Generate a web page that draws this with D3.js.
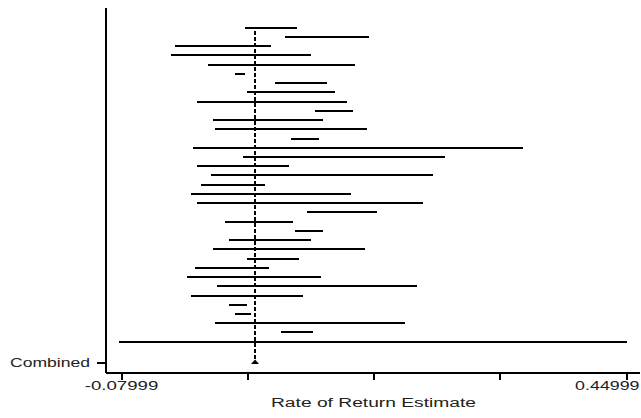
<!DOCTYPE html>
<html>
<head>
<meta charset="utf-8">
<script src="https://cdn.jsdelivr.net/npm/d3@7"></script>
<style>
  body { margin: 0; background: #fff; }
  text { font-family: "Liberation Sans", Arial, sans-serif; fill: #222; }
</style>
</head>
<body>
<script>
/*
*    forest plot - rate of return
*/

var width = 641;
var height = 418;

// study estimates, lower / upper limits (top to bottom)
var lower = [0.0505, 0.0925, -0.0230, -0.0272, 0.0110, 0.0400, 0.0819, 0.0525, 0.0001, 0.1239,
             0.0169, 0.0190, 0.0987, -0.0041, 0.0483, 0.0001, 0.0148, 0.0043, -0.0062, 0.0001,
             0.1155, 0.0295, 0.1029, 0.0337, 0.0169, 0.0525, -0.0020, -0.0104, 0.0211, -0.0062,
             0.0337, 0.0400, 0.0190, 0.0882, -0.0818];
var upper = [0.1044, 0.1803, 0.0774, 0.1194, 0.1653, 0.0501, 0.1359, 0.1443, 0.1569, 0.1632,
             0.1317, 0.1779, 0.1275, 0.3416, 0.2597, 0.0960, 0.2471, 0.0708, 0.1611, 0.2366,
             0.1883, 0.1002, 0.1317, 0.1191, 0.1758, 0.1065, 0.0750, 0.1296, 0.2303, 0.1107,
             0.0519, 0.0561, 0.2177, 0.1212, 0.4507];

// combined estimate
var combinedEst = 0.0607;
var combinedLow = 0.0565;
var combinedHigh = 0.0648;
var combinedRow = 36.25;

var xTicks = [-0.07999, 0.052505, 0.185, 0.317495, 0.44999];
var xTickLabels = ["-0.07999", "", "", "", "0.44999"];
var yTickLabel = "Combined";
var xTitle = "Rate of Return Estimate";

var rows = lower.map((d, i) => ({row: i, lo: d, hi: upper[i]}));

//Scales
var x = d3.scaleLinear()
    .domain([-0.07999, 0.44999])
    .range([121, 626]);

var xAxisScale = x.copy()
    .domain([x.invert(105), x.invert(639)])
    .range([105, 639]);

var y = d3.scaleLinear()
    .domain([-2.24, 37.28])
    .range([7, 372]);

//Canvas
var svg = d3.select("body")
    .append("svg")
        .attr("width", width)
        .attr("height", height);

svg.append("rect")
    .attr("width", width)
    .attr("height", height)
    .attr("fill", "#fff");

//Axes
var bottomAxis = d3.axisBottom(xAxisScale)
    .tickValues(xTicks)
    .tickFormat((d, i) => xTickLabels[i])
    .tickSize(8)
    .tickSizeOuter(0);

var gx = svg.append("g")
    .attr("class", "x axis")
    .attr("transform", "translate(0, " + y.range()[1] + ")")
    .call(bottomAxis);
gx.select(".domain").attr("stroke", "#000").attr("stroke-width", 2).attr("shape-rendering", "crispEdges");
gx.selectAll(".tick line").attr("stroke", "#000").attr("stroke-width", 2).attr("shape-rendering", "crispEdges");
gx.selectAll(".tick text")
    .attr("font-size", 12.5)
    .attr("y", 9)
    .attr("textLength", (d, i) => xTickLabels[i] ? xTickLabels[i].length * 9.2 : null)
    .attr("lengthAdjust", "spacingAndGlyphs");
gx.selectAll(".tick text")
    .filter((d, i) => i === xTicks.length - 1)
    .attr("text-anchor", "end")
    .attr("dx", 13);

var leftAxis = d3.axisLeft(y)
    .tickValues([combinedRow])
    .tickFormat(() => yTickLabel)
    .tickSize(8)
    .tickSizeOuter(0);

var gy = svg.append("g")
    .attr("class", "y axis")
    .attr("transform", "translate(" + xAxisScale.range()[0] + ", 0)")
    .call(leftAxis);
gy.select(".domain").attr("stroke", "#000").attr("stroke-width", 2).attr("shape-rendering", "crispEdges");
gy.selectAll(".tick line").attr("stroke", "#000").attr("stroke-width", 2).attr("shape-rendering", "crispEdges");
gy.selectAll(".tick text")
    .attr("font-size", 12.5)
    .attr("x", -15)
    .attr("textLength", 80)
    .attr("lengthAdjust", "spacingAndGlyphs");

svg.append("text")
    .attr("x", (x.range()[0] + x.range()[1]) / 2)
    .attr("y", 407)
    .attr("text-anchor", "middle")
    .attr("font-size", 12.5)
    .attr("textLength", 205)
    .attr("lengthAdjust", "spacingAndGlyphs")
    .text(xTitle);

//Confidence interval lines
svg.append("g")
    .selectAll("line")
    .data(rows)
    .enter()
    .append("line")
        .attr("x1", d => x(d.lo))
        .attr("x2", d => x(d.hi))
        .attr("y1", d => y(d.row))
        .attr("y2", d => y(d.row))
        .attr("stroke", "#000")
        .attr("stroke-width", 2)
        .attr("shape-rendering", "crispEdges");

//Combined estimate reference line
svg.append("line")
    .attr("x1", x(combinedEst))
    .attr("x2", x(combinedEst))
    .attr("y1", y(0) + 3)
    .attr("y2", y(combinedRow) - 2)
    .attr("stroke", "#000")
    .attr("stroke-width", 2)
    .attr("stroke-dasharray", "4,2")
    .attr("shape-rendering", "crispEdges");

svg.append("path")
    .attr("d", "M" + x(combinedLow) + "," + (y(combinedRow) + 1.5) +
               "L" + x(combinedEst) + "," + (y(combinedRow) - 3) +
               "L" + x(combinedHigh) + "," + (y(combinedRow) + 1.5) + "Z")
    .attr("fill", "#000");
</script>
</body>
</html>
